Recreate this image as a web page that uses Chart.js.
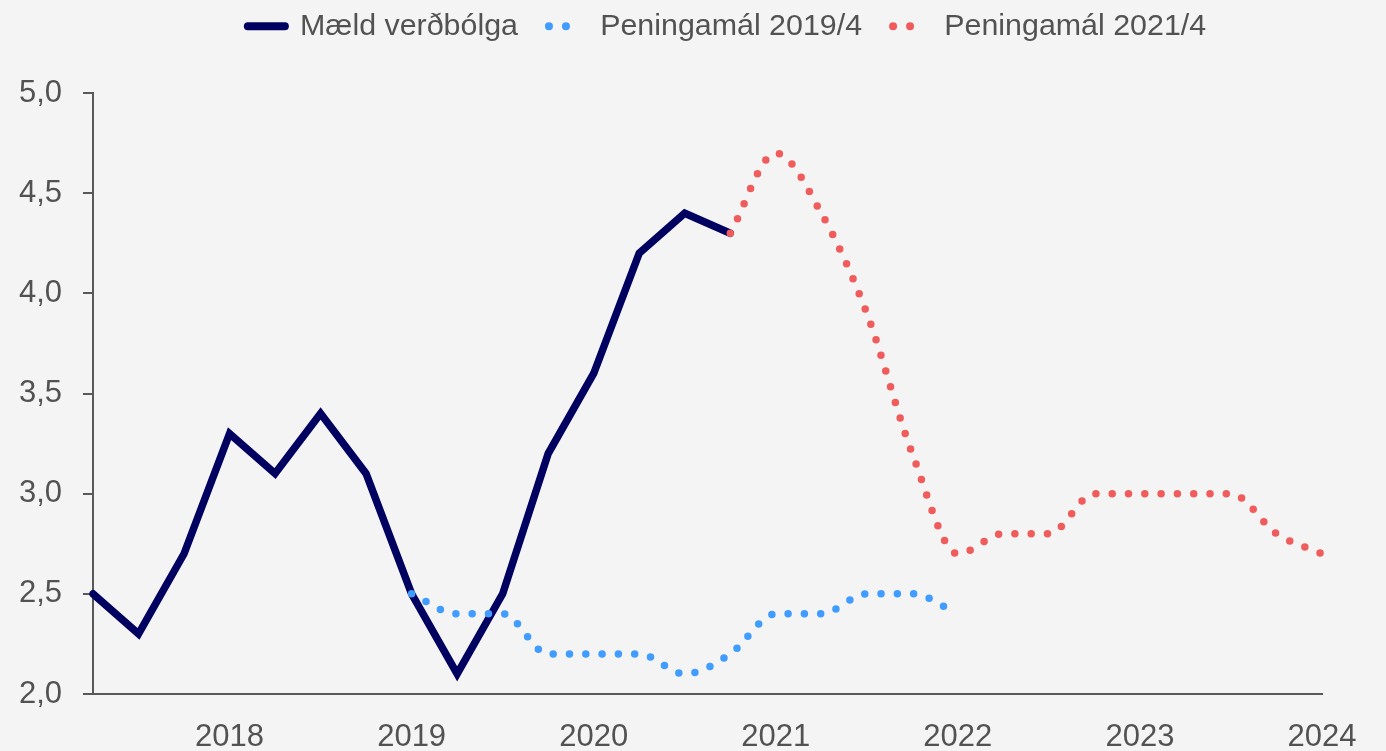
<!DOCTYPE html>
<html lang="is">
<head>
    <meta charset="UTF-8">
    <title>Verðbólga og spár</title>
    <script src="https://cdn.jsdelivr.net/npm/chart.js"></script>
    <style>
        html, body { margin: 0; padding: 0; background: #f4f4f4; }
        canvas { display: block; }
    </style>
</head>
<body>
    <canvas id="inflationChart" width="1386" height="751"></canvas>
    <script>
        // Quarters on the x axis, 2017Q2 - 2024Q1
        const quarters = [
            '2017Q2', '2017Q3', '2017Q4',
            '2018Q1', '2018Q2', '2018Q3', '2018Q4',
            '2019Q1', '2019Q2', '2019Q3', '2019Q4',
            '2020Q1', '2020Q2', '2020Q3', '2020Q4',
            '2021Q1', '2021Q2', '2021Q3', '2021Q4',
            '2022Q1', '2022Q2', '2022Q3', '2022Q4',
            '2023Q1', '2023Q2', '2023Q3', '2023Q4',
            '2024Q1'
        ];
        const xTickLabels = [
            '', '', '',
            '2018', '', '', '',
            '2019', '', '', '',
            '2020', '', '', '',
            '2021', '', '', '',
            '2022', '', '', '',
            '2023', '', '', '',
            '2024'
        ];
        const yTicks = [2.0, 2.5, 3.0, 3.5, 4.0, 4.5, 5.0];

        const measured = [2.5, 2.3, 2.7, 3.3, 3.1, 3.4, 3.1, 2.5, 2.1, 2.5, 3.2, 3.6, 4.2, 4.4, 4.3,
            null, null, null, null, null, null, null, null, null, null, null, null, null];
        const forecast2019 = [null, null, null, null, null, null, null,
            2.5, 2.4, 2.4, 2.2, 2.2, 2.2, 2.1, 2.2, 2.4, 2.4, 2.5, 2.5, 2.4,
            null, null, null, null, null, null, null, null];
        const forecast2021 = [null, null, null, null, null, null, null, null, null, null, null, null, null, null,
            4.3, 4.7, 4.4, 3.9, 3.2, 2.7, 2.8, 2.8, 3.0, 3.0, 3.0, 3.0, 2.8, 2.7];

        const textColor = '#525252';
        const axisColor = '#595959';
        const fontFamily = "'Liberation Sans', Arial, sans-serif";

        // legend box height + moving it like the original
        const legendTweak = {
            id: 'legendTweak',
            beforeInit(chart) {
                const origFit = chart.legend.fit;
                chart.legend.fit = function () {
                    origFit.bind(chart.legend)();
                    this.height = 93;
                };
            },
            afterLayout(chart) {
                const lg = chart.legend;
                const dx = 727 - (lg.left + lg.right) / 2;
                lg.left += dx;
                lg.right += dx;
                lg.top = -19;
            }
        };

        const ctx = document.getElementById('inflationChart').getContext('2d');
        new Chart(ctx, {
            type: 'line',
            data: {
                labels: quarters,
                datasets: [{
                    label: 'Mæld verðbólga',
                    data: measured,
                    borderColor: '#000060',
                    backgroundColor: '#000060',
                    borderWidth: 7.5,
                    borderCapStyle: 'round',
                    tension: 0,
                    pointRadius: 0,
                    order: 3
                }, {
                    label: 'Peningamál 2019/4',
                    data: forecast2019,
                    borderColor: '#409cff',
                    backgroundColor: '#409cff',
                    borderWidth: 7.5,
                    borderCapStyle: 'round',
                    borderDash: [0, 16.3],
                    cubicInterpolationMode: 'monotone',
                    pointRadius: 0,
                    order: 2
                }, {
                    label: 'Peningamál 2021/4',
                    data: forecast2021,
                    borderColor: '#f05c5c',
                    backgroundColor: '#f05c5c',
                    borderWidth: 7.5,
                    borderCapStyle: 'round',
                    borderDash: [0, 16.3],
                    cubicInterpolationMode: 'monotone',
                    pointRadius: 0,
                    order: 1
                }]
            },
            options: {
                responsive: false,
                animation: false,
                layout: {
                    padding: { left: 0, right: 64, top: 0, bottom: 0 }
                },
                plugins: {
                    tooltip: { enabled: false },
                    legend: {
                        position: 'top',
                        labels: {
                            usePointStyle: true,
                            pointStyle: 'line',
                            pointStyleWidth: 37,
                            padding: 30,
                            color: textColor,
                            font: { family: fontFamily, size: 30.4 },
                            sort: (a, b) => a.datasetIndex - b.datasetIndex,
                            generateLabels(chart) {
                                const items = Chart.defaults.plugins.legend.labels.generateLabels(chart);
                                items.forEach(it => {
                                    const ds = chart.data.datasets[it.datasetIndex];
                                    it.strokeStyle = ds.borderColor;
                                    it.lineWidth = 8;
                                    it.lineCap = 'round';
                                    if (ds.borderDash) {
                                        // two dots like the original key
                                        it.lineDash = [0, 17, 0, 60];
                                        it.lineDashOffset = 76;
                                    } else {
                                        it.lineDash = [];
                                        it.lineDashOffset = 0;
                                    }
                                });
                                return items;
                            }
                        }
                    }
                },
                scales: {
                    x: {
                        offset: false,
                        grid: { display: true, drawOnChartArea: false, drawTicks: false },
                        border: { display: true, color: axisColor, width: 2 },
                        ticks: {
                            autoSkip: false,
                            maxRotation: 0,
                            padding: 25,
                            color: textColor,
                            font: { family: fontFamily, size: 31 },
                            callback: (value, index) => xTickLabels[index]
                        },
                        afterFit(scale) { scale.height = 57; }
                    },
                    y: {
                        min: 2,
                        max: 5,
                        afterBuildTicks(scale) {
                            scale.ticks = yTicks.map(v => ({ value: v }));
                        },
                        grid: {
                            display: true,
                            drawOnChartArea: false,
                            drawTicks: true,
                            tickLength: 10,
                            color: axisColor,
                            lineWidth: 2
                        },
                        border: { display: true, color: axisColor, width: 2 },
                        ticks: {
                            padding: 21,
                            color: textColor,
                            font: { family: fontFamily, size: 31 },
                            callback: (value) => value.toFixed(1).replace('.', ',')
                        },
                        afterFit(scale) { scale.width = 93; }
                    }
                }
            },
            plugins: [legendTweak]
        });
    </script>
</body>
</html>
